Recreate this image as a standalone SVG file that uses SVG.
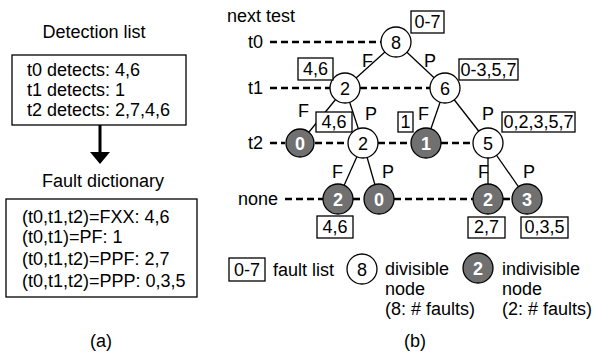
<svg xmlns="http://www.w3.org/2000/svg" width="595" height="356" viewBox="0 0 595 356">
<style>
text{font-family:"Liberation Sans",Arial,sans-serif;font-size:18px;fill:#000}
.box{fill:#fff;stroke:#000;stroke-width:1.3}
.dn{fill:#fff;stroke:#000;stroke-width:1.3}
.in{fill:#707070;stroke:#000;stroke-width:1.3}
.nt{text-anchor:middle}
.it{text-anchor:middle;fill:#fff;font-weight:bold}
.dash{stroke:#000;stroke-width:2.6;stroke-dasharray:7 4;fill:none}
.edge{stroke:#000;stroke-width:1.3;fill:none}
.c{text-anchor:middle}
</style>
<rect width="595" height="356" fill="#fff"/>

<!-- (a) -->
<g id="detection-list">
<text x="94" y="38" class="c">Detection list</text>
<rect class="box" x="12" y="55" width="174" height="70"/>
<text x="27" y="76">t0 detects: 4,6</text>
<text x="27" y="96">t1 detects: 1</text>
<text x="27" y="116">t2 detects: 2,7,4,6</text>
</g>
<g id="fault-dictionary">
<text x="103" y="187" class="c">Fault dictionary</text>
<rect class="box" x="6" y="199" width="191" height="98"/>
<text x="22" y="223">(t0,t1,t2)=FXX: 4,6</text>
<text x="22" y="243">(t0,t1)=PF: 1</text>
<text x="22" y="265">(t0,t1,t2)=PPF: 2,7</text>
<text x="22" y="287">(t0,t1,t2)=PPP: 0,3,5</text>
</g>
<g id="arrow-a">
<line x1="100" y1="125" x2="100" y2="153" stroke="#000" stroke-width="3"/>
<polygon points="90,152 110,152 100,164" fill="#000"/>
</g>
<text x="101" y="347" class="c">(a)</text>

<!-- (b) labels -->
<text x="227" y="22">next test</text>
<text x="248" y="48">t0</text>
<text x="248" y="94">t1</text>
<text x="248" y="149">t2</text>
<text x="238" y="205">none</text>

<g id="connectors">
<!-- dashed test levels -->
<line class="dash" x1="270" y1="42" x2="381" y2="42"/>
<line class="dash" x1="270" y1="88" x2="330" y2="88"/>
<line class="dash" x1="360" y1="88" x2="430" y2="88"/>
<line class="dash" x1="270" y1="143" x2="285" y2="143"/>
<line class="dash" x1="315" y1="143" x2="348" y2="143"/>
<line class="dash" x1="378" y1="143" x2="411" y2="143"/>
<line class="dash" x1="441" y1="143" x2="473" y2="143"/>
<line class="dash" x1="285" y1="199" x2="323" y2="199"/>
<line class="dash" x1="353" y1="199" x2="364" y2="199"/>
<line class="dash" x1="394" y1="199" x2="473" y2="199"/>
<line class="dash" x1="503" y1="199" x2="512" y2="199"/>
<!-- tree edges -->
<line class="edge" x1="396" y1="42" x2="345" y2="88"/>
<line class="edge" x1="396" y1="42" x2="445" y2="88"/>
<line class="edge" x1="345" y1="88" x2="300" y2="143"/>
<line class="edge" x1="345" y1="88" x2="363" y2="143"/>
<line class="edge" x1="445" y1="88" x2="426" y2="143"/>
<line class="edge" x1="445" y1="88" x2="488" y2="143"/>
<line class="edge" x1="363" y1="143" x2="338" y2="199"/>
<line class="edge" x1="363" y1="143" x2="379" y2="199"/>
<line class="edge" x1="488" y1="143" x2="488" y2="199"/>
<line class="edge" x1="488" y1="143" x2="527" y2="199"/>
<!-- edge labels -->
<text x="362" y="67">F</text>
<text x="424" y="67">P</text>
<text x="298" y="117">F</text>
<text x="365" y="120">P</text>
<text x="418" y="120">F</text>
<text x="482" y="120">P</text>
<text x="332" y="178">F</text>
<text x="382" y="178">P</text>
<text x="478" y="178">F</text>
<text x="523" y="178">P</text>
</g>

<!-- nodes -->
<g id="n8"><circle class="dn" cx="396" cy="42" r="15"/><text class="nt" x="396" y="49">8</text></g>
<g id="n2a"><circle class="dn" cx="345" cy="88" r="15"/><text class="nt" x="345" y="95">2</text></g>
<g id="n6"><circle class="dn" cx="445" cy="88" r="15"/><text class="nt" x="445" y="95">6</text></g>
<g id="n0a"><circle class="in" cx="300" cy="143" r="14"/><text class="it" x="300" y="150">0</text></g>
<g id="n2b"><circle class="dn" cx="363" cy="143" r="15"/><text class="nt" x="363" y="150">2</text></g>
<g id="n1"><circle class="in" cx="426" cy="143" r="15"/><text class="it" x="426" y="150">1</text></g>
<g id="n5"><circle class="dn" cx="488" cy="143" r="15"/><text class="nt" x="488" y="150">5</text></g>
<g id="n2c"><circle class="in" cx="338" cy="199" r="15"/><text class="it" x="338" y="206">2</text></g>
<g id="n0b"><circle class="in" cx="379" cy="199" r="15"/><text class="it" x="379" y="206">0</text></g>
<g id="n2d"><circle class="in" cx="488" cy="199" r="15"/><text class="it" x="488" y="206">2</text></g>
<g id="n3"><circle class="in" cx="527" cy="199" r="15"/><text class="it" x="527" y="206">3</text></g>

<!-- fault list boxes -->
<g id="fl-0-7"><rect class="box" x="411" y="11" width="33" height="22"/><text class="c" x="427.5" y="28">0-7</text></g>
<g id="fl-46a"><rect class="box" x="298" y="58" width="35" height="22"/><text class="c" x="315.5" y="75">4,6</text></g>
<g id="fl-0357"><rect class="box" x="459" y="59" width="59" height="21"/><text class="c" x="488.5" y="76">0-3,5,7</text></g>
<g id="fl-46b"><rect class="box" x="316" y="112" width="36" height="20"/><text class="c" x="334" y="128">4,6</text></g>
<g id="fl-1"><rect class="box" x="398" y="112" width="15" height="20"/><text class="c" x="405.5" y="128">1</text></g>
<g id="fl-02357"><rect class="box" x="502" y="112" width="73" height="20"/><text class="c" x="538.5" y="128">0,2,3,5,7</text></g>
<g id="fl-46c"><rect class="box" x="317" y="216" width="36" height="22"/><text class="c" x="335" y="233">4,6</text></g>
<g id="fl-27"><rect class="box" x="468" y="217" width="37" height="21"/><text class="c" x="486.5" y="233">2,7</text></g>
<g id="fl-035"><rect class="box" x="521" y="217" width="47" height="21"/><text class="c" x="544.5" y="233">0,3,5</text></g>

<!-- legend -->
<g id="legend-fault-list"><rect class="box" x="229" y="258" width="36" height="23"/><text class="c" x="247" y="276">0-7</text><text x="273" y="276">fault list</text></g>
<g id="legend-divisible"><circle class="dn" cx="362" cy="269" r="15"/><text class="nt" x="362" y="276">8</text>
<text x="385" y="275">divisible</text><text x="385" y="295">node</text><text x="385" y="315">(8: # faults)</text></g>
<g id="legend-indivisible"><circle class="in" cx="478" cy="268" r="15"/><text class="it" x="478" y="275">2</text>
<text x="502" y="275">indivisible</text><text x="502" y="295">node</text><text x="502" y="315">(2: # faults)</text></g>

<text x="415" y="347" class="c">(b)</text>
</svg>
